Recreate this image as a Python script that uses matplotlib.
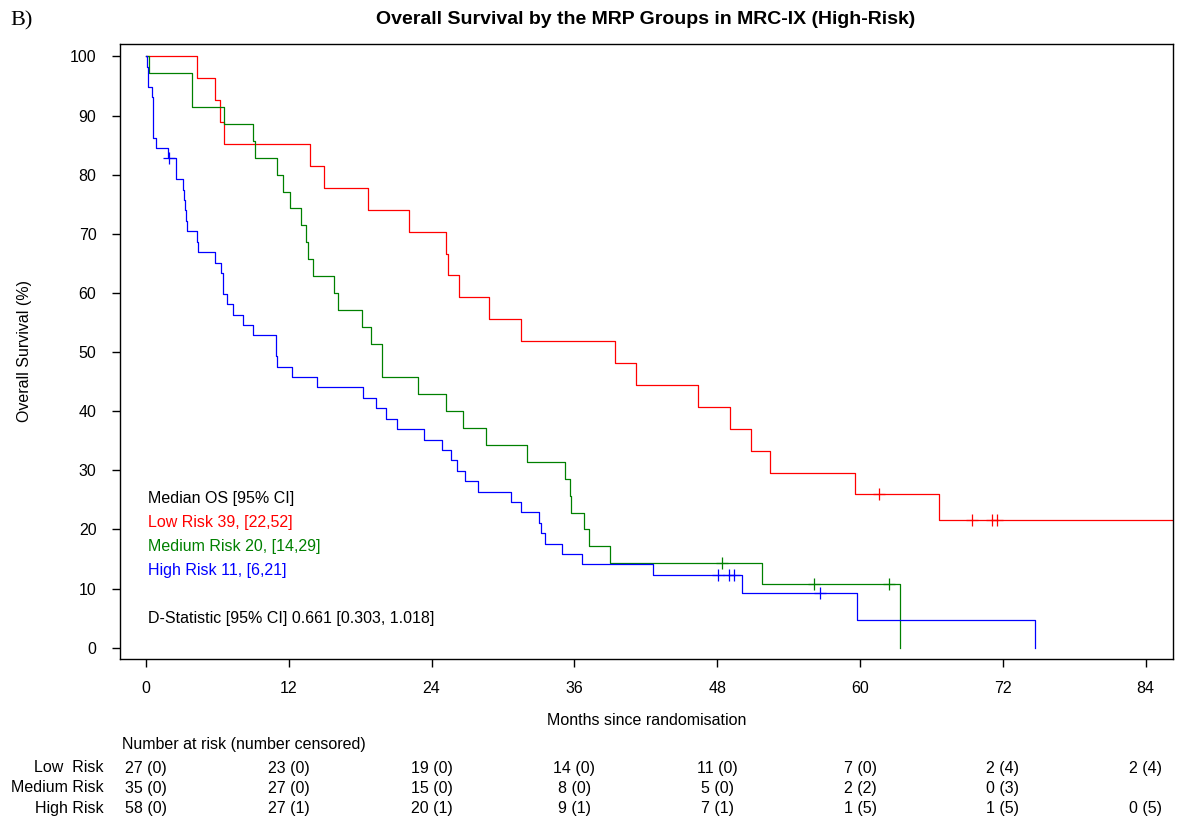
import matplotlib
matplotlib.use("Agg")
from matplotlib import pyplot as plt
from matplotlib.transforms import blended_transform_factory
import numpy as np

plt.rcParams['font.family'] = ['Liberation Sans', 'DejaVu Sans']

# event times (months)
low_deaths = [4.26, 5.77, 6.19, 6.58, 13.78, 14.96, 18.68, 22.13, 25.24, 25.41,
              26.33, 28.8, 31.54, 39.38, 41.2, 46.39, 49.1, 50.87, 52.46, 59.55, 66.6]
low_censored = [61.57, 69.4, 71.1, 71.5]
low_n = 27
low_end = 87.0

med_deaths = [0.28, 3.87, 3.87, 6.55, 9.02, 9.13, 10.98, 11.48, 12.13, 13.03,
              13.47, 13.64, 14.0, 15.83, 16.17, 18.18, 18.88, 19.83, 19.83, 22.9,
              25.24, 26.6, 28.55, 32.04, 35.24, 35.66, 35.74, 36.78, 37.2, 39.02,
              51.8, 63.4]
med_censored = [48.4, 56.1, 62.4]
med_n = 35
med_end = 63.4

high_deaths = [0.05, 0.2, 0.2, 0.48, 0.62, 0.62, 0.62, 0.62, 0.84, 1.87,
               2.52, 2.52, 3.14, 3.19, 3.28, 3.36, 3.47, 4.26, 4.34, 5.8,
               6.27, 6.44, 6.5, 6.8, 7.3, 8.18, 9.02, 10.92, 10.92, 11.03,
               12.24, 14.39, 18.26, 19.33, 20.2, 21.1, 23.4, 24.9, 25.66, 26.16,
               26.78, 27.87, 30.67, 31.54, 33.05, 33.22, 33.53, 34.98, 36.64, 42.6,
               50.08, 59.75, 74.7]
high_censored = [1.93, 48.1, 49.0, 49.4, 56.6]
high_n = 58
high_end = 74.7

# number at risk table
risk_times = [0, 12, 24, 36, 48, 60, 72, 84]
low_at_risk = [27, 23, 19, 14, 11, 7, 2, 2]
low_cens = [0, 0, 0, 0, 0, 0, 4, 4]
med_at_risk = [35, 27, 15, 8, 5, 2, 0]
med_cens = [0, 0, 0, 0, 0, 2, 3]
high_at_risk = [58, 27, 20, 9, 7, 1, 1, 0]
high_cens = [0, 1, 1, 1, 1, 5, 5, 5]

RED, GREEN, BLUE = '#ff0000', '#008000', '#0000ff'
FS = 11.5


def km_curve(deaths, censored, n, end):
    times = sorted(set(deaths) | set(censored))
    s = 100.0
    at_risk = n
    xs, ys = [0.0], [100.0]
    cx, cy = [], []
    for t in times:
        d = deaths.count(t)
        c = censored.count(t)
        if d:
            s *= (at_risk - d) / at_risk
            xs.append(t)
            ys.append(s)
        if c:
            cx += [t] * c
            cy += [s] * c
        at_risk -= d + c
    if end > xs[-1]:
        xs.append(end)
        ys.append(s)
    return xs, ys, cx, cy


fig = plt.figure(figsize=(11.8, 8.32), dpi=100)
ax = fig.add_axes([120 / 1180, 1 - 659 / 832, 1053 / 1180, 615 / 832])

for deaths, cens, n, end, col in [(low_deaths, low_censored, low_n, low_end, RED),
                                  (med_deaths, med_censored, med_n, med_end, GREEN),
                                  (high_deaths, high_censored, high_n, high_end, BLUE)]:
    xs, ys, cx, cy = km_curve(deaths, cens, n, end)
    ax.step(xs, ys, where='post', color=col, lw=0.9)
    ax.plot(cx, cy, '+', color=col, ms=9, mew=0.9)

ax.set_xlim(-2.18, 86.3)
ax.set_ylim(-1.9, 102.1)
ax.set_xticks(risk_times)
ax.set_yticks(np.arange(0, 101, 10))
ax.tick_params(direction='out', length=6, width=1, labelsize=FS)
ax.tick_params(axis='x', pad=10)
ax.tick_params(axis='y', pad=11)
for sp in ax.spines.values():
    sp.set_linewidth(1.0)

ax.set_xlabel('Months since randomisation', fontsize=FS, labelpad=12)
ax.set_ylabel('Overall Survival (%)', fontsize=FS, labelpad=27)
fig.text(646 / 1180, 1 - 20 / 832, 'Overall Survival by the MRP Groups in MRC-IX (High-Risk)',
         ha='center', va='center', fontsize=14, fontweight='bold')
fig.text(10 / 1180, 1 - 21 / 832, 'B)', ha='left', va='center', fontsize=16,
         family='Liberation Serif')

# median OS annotation
tx = 0.2
ax.text(tx, 25.2, 'Median OS [95% CI]', fontsize=FS, color='black', va='center')
ax.text(tx, 21.2, 'Low Risk 39, [22,52]', fontsize=FS, color=RED, va='center')
ax.text(tx, 17.2, 'Medium Risk 20, [14,29]', fontsize=FS, color=GREEN, va='center')
ax.text(tx, 13.1, 'High Risk 11, [6,21]', fontsize=FS, color=BLUE, va='center')
ax.text(tx, 5.0, 'D-Statistic [95% CI] 0.661 [0.303, 1.018]', fontsize=FS,
        color='black', va='center')

# number at risk table
tr = blended_transform_factory(ax.transData, fig.transFigure)
fig.text(122 / 1180, 1 - 744 / 832, 'Number at risk (number censored)', fontsize=FS,
         va='center')
rows = [('Low  Risk', low_at_risk, low_cens, 768),
        ('Medium Risk', med_at_risk, med_cens, 788),
        ('High Risk', high_at_risk, high_cens, 808)]
for label, nrisk, ncens, ypx in rows:
    fig.text(104 / 1180, 1 - ypx / 832, label, fontsize=FS, ha='right', va='center')
    for t, a, c in zip(risk_times, nrisk, ncens):
        ax.text(t, 1 - ypx / 832, f'{a} ({c})', transform=tr, fontsize=FS,
                ha='center', va='center', clip_on=False)

plt.savefig('out.png', dpi=100)
